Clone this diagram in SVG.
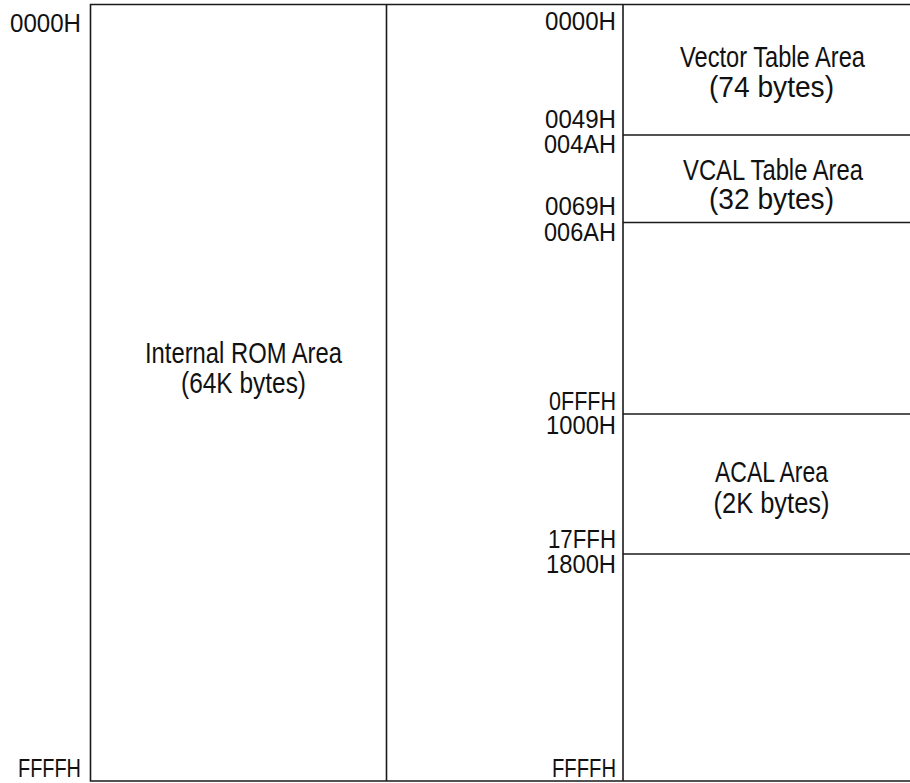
<svg xmlns="http://www.w3.org/2000/svg" width="910" height="783" viewBox="0 0 910 783">
<style>
.ln{stroke:#1a1a1a;stroke-width:1.6;fill:none}
.hx{font-family:"Liberation Sans",Arial,sans-serif;font-size:26px;fill:#111;text-anchor:end}
.lb{font-family:"Liberation Sans",Arial,sans-serif;font-size:30px;fill:#111;text-anchor:middle}
</style>
<rect width="910" height="783" fill="#fff"/>
<g id="connectors">
<polyline class="ln" points="910,4.5 90.5,4.5 90.5,781 910,781"/>
<line class="ln" x1="386.5" y1="4.5" x2="386.5" y2="781"/>
<line class="ln" x1="623" y1="4.5" x2="623" y2="781"/>
<line class="ln" x1="623" y1="135" x2="910" y2="135"/>
<line class="ln" x1="623" y1="222.5" x2="910" y2="222.5"/>
<line class="ln" x1="623" y1="414" x2="910" y2="414"/>
<line class="ln" x1="623" y1="554" x2="910" y2="554"/>
</g>
<g id="rom">
<text class="lb" x="243.5" y="363" textLength="197" lengthAdjust="spacingAndGlyphs">Internal ROM Area</text>
<text class="lb" x="243.5" y="393" textLength="125" lengthAdjust="spacingAndGlyphs">(64K bytes)</text>
<text class="hx" x="81" y="32" textLength="71" lengthAdjust="spacingAndGlyphs">0000H</text>
<text class="hx" x="81" y="777" textLength="63" lengthAdjust="spacingAndGlyphs">FFFFH</text>
</g>
<g id="vector">
<text class="lb" x="772.5" y="67" textLength="185" lengthAdjust="spacingAndGlyphs">Vector Table Area</text>
<text class="lb" x="771.5" y="97" textLength="125" lengthAdjust="spacingAndGlyphs">(74 bytes)</text>
</g>
<g id="vcal">
<text class="lb" x="773" y="180" textLength="180" lengthAdjust="spacingAndGlyphs">VCAL Table Area</text>
<text class="lb" x="771.5" y="209" textLength="125" lengthAdjust="spacingAndGlyphs">(32 bytes)</text>
</g>
<g id="acal">
<text class="lb" x="771.5" y="482" textLength="113" lengthAdjust="spacingAndGlyphs">ACAL Area</text>
<text class="lb" x="771.5" y="513" textLength="116" lengthAdjust="spacingAndGlyphs">(2K bytes)</text>
</g>
<g id="addresses">
<text class="hx" x="616" y="30" textLength="71" lengthAdjust="spacingAndGlyphs">0000H</text>
<text class="hx" x="616" y="128" textLength="71" lengthAdjust="spacingAndGlyphs">0049H</text>
<text class="hx" x="616" y="153" textLength="72" lengthAdjust="spacingAndGlyphs">004AH</text>
<text class="hx" x="616" y="215" textLength="71" lengthAdjust="spacingAndGlyphs">0069H</text>
<text class="hx" x="616" y="241" textLength="72" lengthAdjust="spacingAndGlyphs">006AH</text>
<text class="hx" x="616" y="410" textLength="67" lengthAdjust="spacingAndGlyphs">0FFFH</text>
<text class="hx" x="616" y="434" textLength="70" lengthAdjust="spacingAndGlyphs">1000H</text>
<text class="hx" x="616" y="548" textLength="68" lengthAdjust="spacingAndGlyphs">17FFH</text>
<text class="hx" x="616" y="573" textLength="70" lengthAdjust="spacingAndGlyphs">1800H</text>
<text class="hx" x="616" y="777" textLength="64" lengthAdjust="spacingAndGlyphs">FFFFH</text>
</g>
</svg>
